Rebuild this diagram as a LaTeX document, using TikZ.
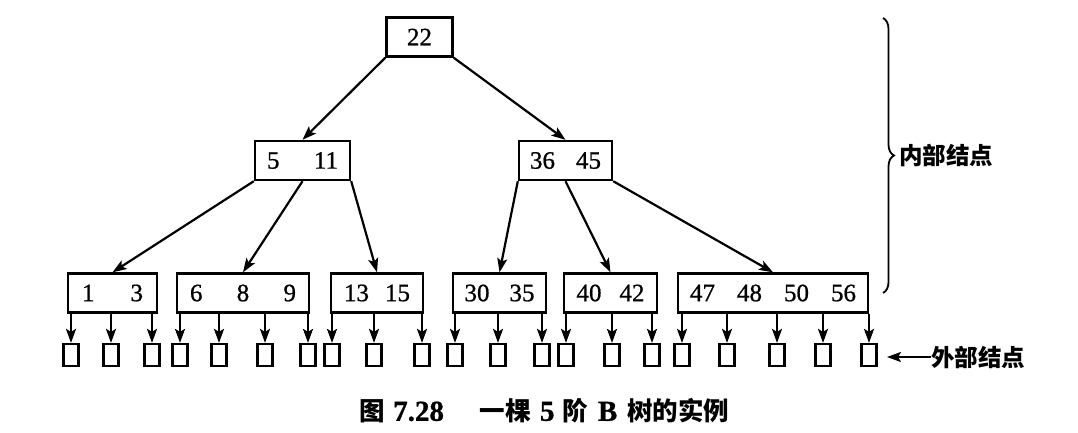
\documentclass[tikz,border=0pt]{standalone}
\usepackage{fontspec}
\setmainfont{Liberation Serif}
\newfontfamily\numfont{Liberation Serif}[FakeBold=0.8]
\newfontfamily\cjk{Noto Sans CJK SC}
\usetikzlibrary{arrows.meta,decorations.pathreplacing}
\tikzset{
  bbox/.style={draw, line width=2.4pt, inner sep=0pt, minimum height=39pt, font=\numfont\fontsize{25}{25}\selectfont},
  ext/.style={draw, line width=2.2pt, inner sep=0pt, minimum width=15pt, minimum height=22pt},
  arr/.style={line width=2.2pt, -{Stealth[length=14pt,width=10pt,inset=3pt]}},
  lbl/.style={font=\cjk\bfseries\fontsize{23.5}{24}\selectfont, inner sep=0pt},
}
\newcommand\capcjk[1]{{\cjk\bfseries\fontsize{25.5}{26}\selectfont #1}}
\newcommand\caplat[1]{{\numfont\bfseries\fontsize{29}{29}\selectfont #1}}
\begin{document}
\begin{tikzpicture}[x=1pt,y=-1pt]
\useasboundingbox (0,0) rectangle (1078,432);
% internal nodes
\node[bbox, minimum width=66pt] (R) at (419.5,37) {22};
\node[bbox, minimum width=95pt] (A) at (302.5,160.5) {\makebox[71pt]{5\hfill 11}};
\node[bbox, minimum width=93pt] (B) at (565.5,160.5) {\makebox[71pt]{36\hfill 45}};
\node[bbox, minimum width=89pt] (L1) at (112.5,293) {\makebox[61pt]{1\hfill 3}};
\node[bbox, minimum width=132pt] (L2) at (243,293) {\makebox[106pt]{6\hfill 8\hfill 9}};
\node[bbox, minimum width=92pt] (L3) at (377,293) {\makebox[66pt]{13\hfill 15}};
\node[bbox, minimum width=93pt] (L4) at (499.5,293) {\makebox[70pt]{30\hfill 35}};
\node[bbox, minimum width=93pt] (L5) at (610.5,293) {\makebox[68pt]{40\hfill 42}};
\node[bbox, minimum width=190pt] (L6) at (773,293) {\makebox[166pt]{47\hfill 48\hfill 50\hfill 56}};
% tree edges
\draw[arr] (R.south west) -- (A.north);
\draw[arr] (R.south east) -- (B.north);
\draw[arr] (A.south west) -- (L1.north);
\draw[arr] (A.south) -- (L2.north);
\draw[arr] (A.south east) -- (L3.north);
\draw[arr] (B.south west) -- (L4.north);
\draw[arr] (B.south) -- (L5.north);
\draw[arr] (B.south east) -- (L6.north);
% external nodes
\foreach \n/\x/\p in {1/71/L1,2/111/L1,3/152/L1,
                      4/180/L2,5/219/L2,6/265/L2,7/308/L2,
                      8/332/L3,9/374/L3,10/422/L3,
                      11/455/L4,12/498/L4,13/542/L4,
                      14/566/L5,15/612/L5,16/652/L5,
                      17/682/L6,18/727/L6,19/777/L6,20/823/L6,21/869/L6}{
  \node[ext] (e\n) at (\x,355) {};
  \draw[arr] (e\n |- \p.south) -- (e\n.north);
}
% brace and labels
\coordinate (bt) at (883,18);
\coordinate (bb) at (883,293);
\draw[line width=1.8pt, decorate, decoration={brace, amplitude=11pt}] (bt) -- (bb);
\node[lbl, anchor=west] (inl) at (899,155) {内部结点};
\node[lbl, anchor=west] (exl) at (931,357) {外部结点};
\coordinate (eb) at (887,357);
\draw[arr] (exl.west) -- (eb);
% caption
\node[inner sep=0pt] (cap) at (544.5,411) {\capcjk{图}\hspace{8pt}\caplat{7.28}\hspace{36pt}\capcjk{一棵}\hspace{9pt}\caplat{5}\hspace{8pt}\capcjk{阶}\hspace{10pt}\caplat{B}\hspace{10pt}\capcjk{树的实例}};
\end{tikzpicture}
\end{document}
